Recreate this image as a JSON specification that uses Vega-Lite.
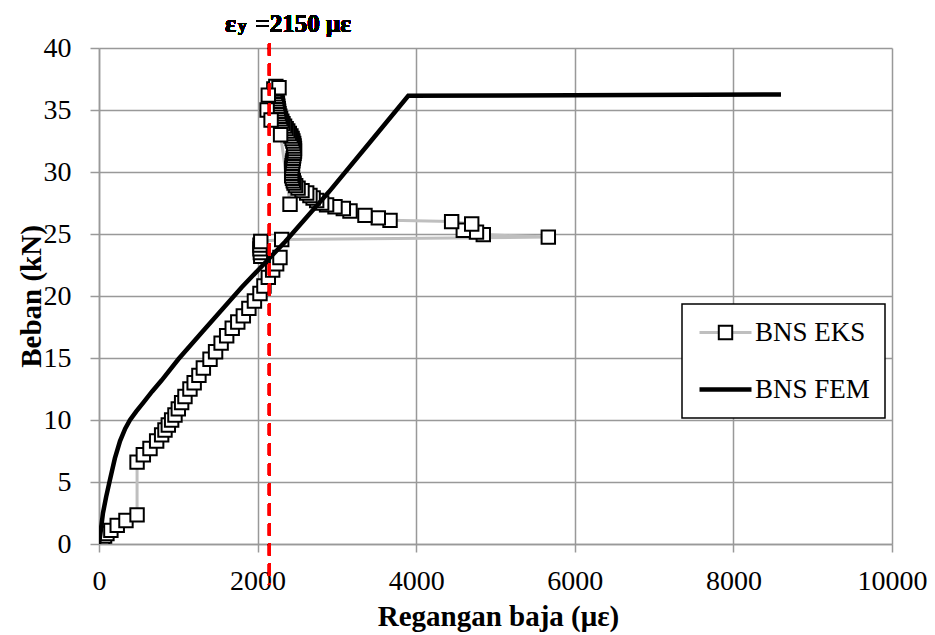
{
  "$schema": "https://vega.github.io/schema/vega-lite/v6.json",
  "width": 793,
  "height": 496,
  "autosize": {"type": "none"},
  "padding": {"left": 99, "top": 48, "right": 43, "bottom": 91},
  "background": "white",
  "data": {"values": [
    {"s":"BNS EKS","i":0,"x":0,"y":0},{"s":"BNS EKS","i":1,"x":10,"y":0.1},{"s":"BNS EKS","i":2,"x":25,"y":0.25},{"s":"BNS EKS","i":3,"x":45,"y":0.45},{"s":"BNS EKS","i":4,"x":70,"y":0.65},{"s":"BNS EKS","i":5,"x":100,"y":0.85},{"s":"BNS EKS","i":6,"x":150,"y":1.1},{"s":"BNS EKS","i":7,"x":230,"y":1.5},{"s":"BNS EKS","i":8,"x":340,"y":1.9},{"s":"BNS EKS","i":9,"x":480,"y":2.35},
    {"s":"BNS EKS","i":10,"x":480,"y":6.6},{"s":"BNS EKS","i":11,"x":559,"y":7.2},{"s":"BNS EKS","i":12,"x":643,"y":7.7},{"s":"BNS EKS","i":13,"x":727,"y":8.3},{"s":"BNS EKS","i":14,"x":790,"y":8.8},{"s":"BNS EKS","i":15,"x":832,"y":9.2},{"s":"BNS EKS","i":16,"x":874,"y":9.6},{"s":"BNS EKS","i":17,"x":916,"y":10.0},{"s":"BNS EKS","i":18,"x":958,"y":10.4},{"s":"BNS EKS","i":19,"x":1000,"y":10.9},{"s":"BNS EKS","i":20,"x":1042,"y":11.4},{"s":"BNS EKS","i":21,"x":1084,"y":11.9},{"s":"BNS EKS","i":22,"x":1147,"y":12.5},{"s":"BNS EKS","i":23,"x":1200,"y":13.0},{"s":"BNS EKS","i":24,"x":1260,"y":13.6},{"s":"BNS EKS","i":25,"x":1316,"y":14.2},{"s":"BNS EKS","i":26,"x":1400,"y":14.9},{"s":"BNS EKS","i":27,"x":1470,"y":15.5},{"s":"BNS EKS","i":28,"x":1540,"y":16.2},{"s":"BNS EKS","i":29,"x":1610,"y":16.8},{"s":"BNS EKS","i":30,"x":1680,"y":17.4},{"s":"BNS EKS","i":31,"x":1750,"y":17.9},{"s":"BNS EKS","i":32,"x":1820,"y":18.4},{"s":"BNS EKS","i":33,"x":1890,"y":19.0},{"s":"BNS EKS","i":34,"x":1960,"y":19.6},{"s":"BNS EKS","i":35,"x":2030,"y":20.2},{"s":"BNS EKS","i":36,"x":2080,"y":20.8},{"s":"BNS EKS","i":37,"x":2135,"y":21.5},{"s":"BNS EKS","i":38,"x":2190,"y":22.1},{"s":"BNS EKS","i":39,"x":2240,"y":22.6},{"s":"BNS EKS","i":40,"x":2282,"y":23.1},
    {"s":"BNS EKS","i":41,"x":2040,"y":23.2},{"s":"BNS EKS","i":42,"x":2035,"y":23.5},{"s":"BNS EKS","i":43,"x":2030,"y":23.8},{"s":"BNS EKS","i":44,"x":2030,"y":24.1},{"s":"BNS EKS","i":45,"x":2040,"y":24.4},{"s":"BNS EKS","i":46,"x":2304,"y":24.55},
    {"s":"BNS EKS","i":47,"x":5666,"y":24.75},{"s":"BNS EKS","i":48,"x":4846,"y":24.95},{"s":"BNS EKS","i":49,"x":4760,"y":25.15},{"s":"BNS EKS","i":50,"x":4594,"y":25.3},{"s":"BNS EKS","i":51,"x":4700,"y":25.8},{"s":"BNS EKS","i":52,"x":4447,"y":26.0},{"s":"BNS EKS","i":53,"x":3670,"y":26.1},{"s":"BNS EKS","i":54,"x":3522,"y":26.3},{"s":"BNS EKS","i":55,"x":3354,"y":26.5},{"s":"BNS EKS","i":56,"x":3165,"y":26.85},{"s":"BNS EKS","i":57,"x":3081,"y":27.05},{"s":"BNS EKS","i":58,"x":2976,"y":27.2},{"s":"BNS EKS","i":59,"x":2870,"y":27.35},{"s":"BNS EKS","i":60,"x":2808,"y":27.5},{"s":"BNS EKS","i":61,"x":2745,"y":27.7},{"s":"BNS EKS","i":62,"x":2700,"y":27.9},{"s":"BNS EKS","i":63,"x":2660,"y":28.1},{"s":"BNS EKS","i":64,"x":2619,"y":28.3},{"s":"BNS EKS","i":65,"x":2560,"y":28.5},{"s":"BNS EKS","i":66,"x":2510,"y":28.7},{"s":"BNS EKS","i":67,"x":2480,"y":28.9},{"s":"BNS EKS","i":68,"x":2460,"y":29.1},{"s":"BNS EKS","i":69,"x":2450,"y":29.3},{"s":"BNS EKS","i":70,"x":2440,"y":29.5},{"s":"BNS EKS","i":71,"x":2430,"y":29.7},{"s":"BNS EKS","i":72,"x":2430,"y":29.9},{"s":"BNS EKS","i":73,"x":2430,"y":30.1},{"s":"BNS EKS","i":74,"x":2430,"y":30.3},{"s":"BNS EKS","i":75,"x":2435,"y":30.5},{"s":"BNS EKS","i":76,"x":2440,"y":30.7},{"s":"BNS EKS","i":77,"x":2445,"y":30.9},{"s":"BNS EKS","i":78,"x":2450,"y":31.1},{"s":"BNS EKS","i":79,"x":2455,"y":31.3},{"s":"BNS EKS","i":80,"x":2460,"y":31.5},{"s":"BNS EKS","i":81,"x":2465,"y":31.7},{"s":"BNS EKS","i":82,"x":2465,"y":31.9},{"s":"BNS EKS","i":83,"x":2460,"y":32.1},{"s":"BNS EKS","i":84,"x":2455,"y":32.3},{"s":"BNS EKS","i":85,"x":2445,"y":32.5},{"s":"BNS EKS","i":86,"x":2435,"y":32.7},{"s":"BNS EKS","i":87,"x":2420,"y":32.9},{"s":"BNS EKS","i":88,"x":2400,"y":33.1},{"s":"BNS EKS","i":89,"x":2380,"y":33.3},{"s":"BNS EKS","i":90,"x":2360,"y":33.5},{"s":"BNS EKS","i":91,"x":2340,"y":33.7},{"s":"BNS EKS","i":92,"x":2320,"y":33.9},{"s":"BNS EKS","i":93,"x":2305,"y":34.1},{"s":"BNS EKS","i":94,"x":2290,"y":34.3},{"s":"BNS EKS","i":95,"x":2280,"y":34.5},{"s":"BNS EKS","i":96,"x":2270,"y":34.7},{"s":"BNS EKS","i":97,"x":2265,"y":34.9},{"s":"BNS EKS","i":98,"x":2260,"y":35.1},{"s":"BNS EKS","i":99,"x":2255,"y":35.3},{"s":"BNS EKS","i":100,"x":2250,"y":35.5},{"s":"BNS EKS","i":101,"x":2245,"y":35.7},{"s":"BNS EKS","i":102,"x":2240,"y":35.9},{"s":"BNS EKS","i":103,"x":2235,"y":36.1},{"s":"BNS EKS","i":104,"x":2225,"y":36.3},{"s":"BNS EKS","i":105,"x":2215,"y":36.5},{"s":"BNS EKS","i":106,"x":2205,"y":36.7},{"s":"BNS EKS","i":107,"x":2230,"y":36.9},{"s":"BNS EKS","i":108,"x":2270,"y":36.8},{"s":"BNS EKS","i":109,"x":2135,"y":36.2},{"s":"BNS EKS","i":110,"x":2120,"y":35.0},{"s":"BNS EKS","i":111,"x":2170,"y":34.2},{"s":"BNS EKS","i":112,"x":2290,"y":33.0},{"s":"BNS EKS","i":113,"x":2409,"y":27.4},
    {"s":"BNS FEM","i":0,"x":0,"y":0},{"s":"BNS FEM","i":1,"x":25,"y":1.2},{"s":"BNS FEM","i":2,"x":50,"y":2.5},{"s":"BNS FEM","i":3,"x":90,"y":3.8},{"s":"BNS FEM","i":4,"x":139,"y":5.2},{"s":"BNS FEM","i":5,"x":200,"y":6.9},{"s":"BNS FEM","i":6,"x":265,"y":8.3},{"s":"BNS FEM","i":7,"x":330,"y":9.3},{"s":"BNS FEM","i":8,"x":391,"y":10.0},{"s":"BNS FEM","i":9,"x":470,"y":10.7},{"s":"BNS FEM","i":10,"x":559,"y":11.4},{"s":"BNS FEM","i":11,"x":670,"y":12.3},{"s":"BNS FEM","i":12,"x":790,"y":13.2},{"s":"BNS FEM","i":13,"x":1000,"y":14.9},{"s":"BNS FEM","i":14,"x":1315,"y":17.2},{"s":"BNS FEM","i":15,"x":1800,"y":20.7},{"s":"BNS FEM","i":16,"x":2350,"y":24.4},{"s":"BNS FEM","i":17,"x":2900,"y":28.4},{"s":"BNS FEM","i":18,"x":3417,"y":32.4},{"s":"BNS FEM","i":19,"x":3900,"y":36.15},{"s":"BNS FEM","i":20,"x":8600,"y":36.25}
  ]},
  "layer": [
    {
      "transform": [{"filter": "datum.s === 'BNS EKS'"}],
      "mark": {"type": "line", "strokeWidth": 3, "clip": true},
      "encoding": {
        "x": {"field": "x", "type": "quantitative", "scale": {"domain": [0, 10000], "nice": false}, "title": "Regangan baja (με)"},
        "y": {"field": "y", "type": "quantitative", "scale": {"domain": [0, 40], "nice": false}, "title": "Beban (kN)"},
        "order": {"field": "i", "type": "quantitative"},
        "stroke": {"field": "s", "type": "nominal", "scale": {"domain": ["BNS EKS", "BNS FEM"], "range": ["#bfbfbf", "#000000"]},
          "legend": {"orient": "none", "legendX": 583, "legendY": 256, "direction": "vertical", "title": null, "zindex": 1,
            "symbolType": "M-2.6,0H2.6", "symbolSize": 400, "symbolStrokeWidth": 4, "symbolOffset": 15,
            "labelFont": "Liberation Serif", "labelFontSize": 27, "labelColor": "black", "labelOffset": 16,
            "padding": 15, "strokeColor": "black", "fillColor": "white", "rowPadding": 29,
            "encode": {
              "symbols": {"update": {
                "shape": {"signal": "(datum.value === 'BNS EKS' ? 'M-2.6,0H-0.75M0.75,0H2.6' : 'M-2.6,0H2.6')"},
                "strokeWidth": {"signal": "(datum.value === 'BNS EKS' ? 3 : 4.5)"},
                "size": {"value": 400}
              }},
              "legend": {"update": {"strokeWidth": {"value": 1.5}}}
            }
          }
        }
      }
    },
    {
      "transform": [{"filter": "datum.s === 'BNS EKS'"}],
      "mark": {"type": "point", "shape": "square", "filled": false, "fill": "white", "fillOpacity": 1, "strokeWidth": 2, "size": 180, "opacity": 1, "clip": true},
      "encoding": {
        "x": {"field": "x", "type": "quantitative", "title": "Regangan baja (με)"},
        "y": {"field": "y", "type": "quantitative", "title": "Beban (kN)"},
        "color": {"field": "s", "type": "nominal", "scale": {"domain": ["BNS EKS"], "range": ["#000000"]},
          "legend": {"orient": "none", "legendX": 583, "legendY": 256, "direction": "vertical", "title": null, "zindex": 2,
            "symbolType": "square", "symbolSize": 180, "symbolStrokeWidth": 2, "symbolOffset": 15, "symbolFillColor": "white",
            "labelFont": "Liberation Serif", "labelFontSize": 27, "labelOpacity": 0, "labelOffset": 16,
            "padding": 15, "rowPadding": 29,
            "encode": {"symbols": {"update": {"fill": {"value": "white"}, "stroke": {"value": "black"}, "strokeWidth": {"value": 2}, "fillOpacity": {"value": 1}, "strokeOpacity": {"value": 1}, "opacity": {"value": 1}}}}
          }
        }
      }
    },
    {
      "transform": [{"filter": "datum.s === 'BNS FEM'"}],
      "mark": {"type": "line", "strokeWidth": 4.5, "clip": true},
      "encoding": {
        "x": {"field": "x", "type": "quantitative", "title": "Regangan baja (με)"},
        "y": {"field": "y", "type": "quantitative", "title": "Beban (kN)"},
        "order": {"field": "i", "type": "quantitative"},
        "stroke": {"field": "s", "type": "nominal"}
      }
    },
    {
      "mark": {"type": "rule", "color": "#ff0000", "strokeWidth": 3, "strokeDash": [12, 8]},
      "encoding": {
        "x": {"datum": 2150, "type": "quantitative", "title": "Regangan baja (με)"},
        "y": {"datum": 40.35, "type": "quantitative", "title": "Beban (kN)"},
        "y2": {"datum": -3.3}
      }
    },
    {
      "mark": {"type": "text", "text": "ε", "font": "Liberation Serif", "fontSize": 26, "fontWeight": "bold", "align": "left", "baseline": "alphabetic", "dx": -44.5, "dy": -16, "color": "black"},
      "encoding": {
        "x": {"datum": 2150, "type": "quantitative", "title": "Regangan baja (με)"},
        "y": {"datum": 40, "type": "quantitative", "title": "Beban (kN)"}
      }
    },
    {
      "mark": {"type": "text", "text": "y", "font": "Liberation Serif", "fontSize": 17, "fontWeight": "bold", "align": "left", "baseline": "alphabetic", "dx": -31.5, "dy": -17, "color": "black"},
      "encoding": {
        "x": {"datum": 2150, "type": "quantitative", "title": "Regangan baja (με)"},
        "y": {"datum": 40, "type": "quantitative", "title": "Beban (kN)"}
      }
    },
    {
      "mark": {"type": "text", "text": "=2150 με", "font": "Liberation Serif", "fontSize": 25, "fontWeight": "bold", "align": "left", "baseline": "alphabetic", "dx": -14, "dy": -16, "color": "black"},
      "encoding": {
        "x": {"datum": 2150, "type": "quantitative", "title": "Regangan baja (με)"},
        "y": {"datum": 40, "type": "quantitative", "title": "Beban (kN)"}
      }
    }
  ],
  "config": {
    "view": {"stroke": null},
    "font": "Liberation Serif",
    "axis": {
      "grid": true, "gridColor": "#999999", "gridWidth": 1.5,
      "domainColor": "#999999", "domainWidth": 1.5,
      "tickColor": "#999999", "tickWidth": 1.5,
      "labelFont": "Liberation Serif", "labelFontSize": 28, "labelColor": "black",
      "titleFont": "Liberation Serif", "titleFontSize": 29, "titleFontWeight": "bold", "titleColor": "black",
      "format": "d"
    },
    "axisX": {"tickSize": 8, "labelPadding": 15, "tickCount": 5, "labelFlush": false, "labelOverlap": false, "titleX": 399, "titleY": 72, "titleBaseline": "middle", "titleAlign": "center"},
    "axisY": {"tickSize": 9, "labelPadding": 19, "tickCount": 8, "labelOverlap": false, "titleX": -68, "titleY": 248, "titleAngle": 270, "titleBaseline": "middle", "titleAlign": "center"}
  }
}
